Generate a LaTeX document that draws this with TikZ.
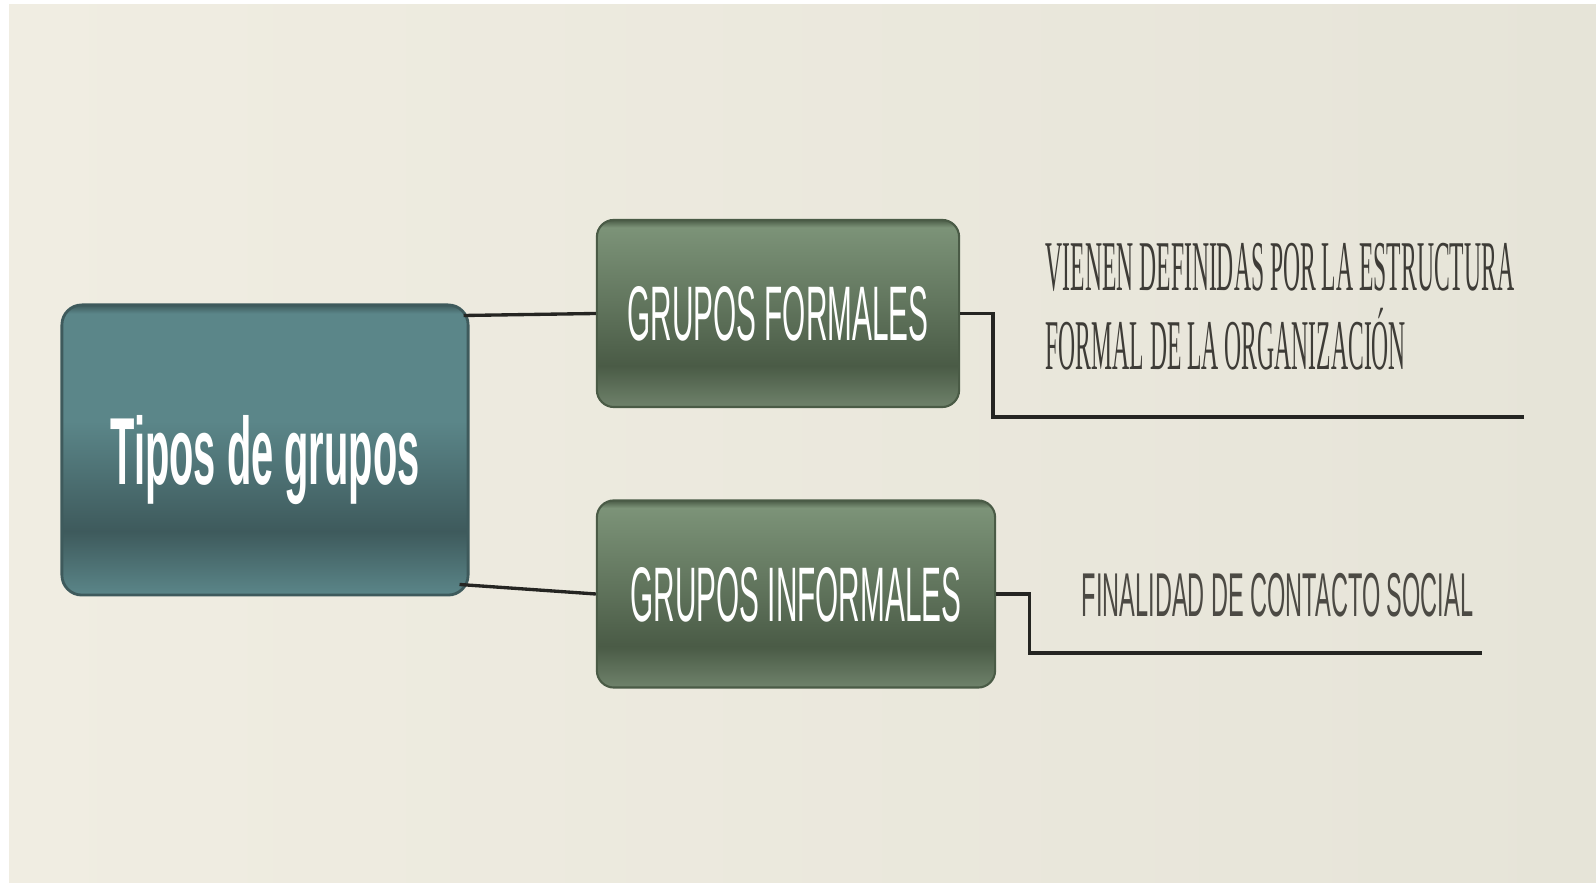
\documentclass[tikz,border=0pt]{standalone}
\usepackage{fontspec}
\setmainfont{Liberation Sans}
\newfontfamily\titlefont[FakeStretch=0.418]{Liberation Sans Bold}
\newfontfamily\boxfont[FakeStretch=0.385]{Liberation Sans}
\newfontfamily\notefont[FakeStretch=0.38]{Liberation Sans}
\newfontfamily\seriffont[FakeStretch=0.331]{Liberation Serif}
\usetikzlibrary{positioning,calc}
\definecolor{paperL}{HTML}{F0EDE2}
\definecolor{paperR}{HTML}{E6E4D8}
\definecolor{tealT}{HTML}{5B8689}
\definecolor{tealM}{HTML}{3E5A5C}
\definecolor{greenT}{HTML}{7C9378}
\definecolor{greenM}{HTML}{4A5B46}
\definecolor{greenB}{HTML}{6F826B}
\definecolor{inkline}{HTML}{252522}
\definecolor{inktext}{HTML}{3E3C37}
\definecolor{inknote}{HTML}{4C4A44}
% shadings: the box fills 25bp (bottom) to 75bp (top)
\pgfdeclareverticalshading{tealshade}{100bp}{color(0bp)=(tealT);
  color(25bp)=(tealT); color(36bp)=(tealM); color(55bp)=(tealT);
  color(73.5bp)=(tealT); color(75bp)=(tealM); color(100bp)=(tealM)}
\pgfdeclareverticalshading{greenshade}{100bp}{color(0bp)=(greenB);
  color(25bp)=(greenB); color(36bp)=(greenM); color(52bp)=(greenM!55!greenT);
  color(73bp)=(greenT); color(75bp)=(greenM); color(100bp)=(greenM)}

\begin{document}
\begin{tikzpicture}[x=0.01cm,y=-0.01cm,
    mainbox/.style={rounded corners=0.2cm, draw=tealM, line width=0.8pt,
      shading=tealshade, text=white, inner sep=0pt, text depth=0pt,
      minimum width=4.06cm, minimum height=2.9cm,
      font=\titlefont\fontsize{27.1pt}{30pt}\selectfont},
    groupbox/.style={rounded corners=0.17cm, draw=greenM, line width=0.6pt,
      shading=greenshade, text=white, inner sep=0pt, text depth=0pt,
      minimum height=1.87cm,
      font=\boxfont\fontsize{22pt}{24pt}\selectfont},
    conn/.style={draw=inkline, line width=0.95pt}]
    % background
    \fill[white] (0,0) rectangle (1596,883);
    \shade[left color=paperL, right color=paperR] (9,5) rectangle (1596,883);
    \useasboundingbox (0,0) rectangle (1596,883);
    % boxes
    \node[mainbox] (tipos) at (265,450) {Tipos de grupos};
    \node[groupbox, minimum width=3.62cm] (formales) at (778,313.5) {GRUPOS FORMALES};
    \node[groupbox, minimum width=3.98cm] (informales) at (796,594) {GRUPOS INFORMALES};
    % notes
    \node[text=inktext, align=left, inner sep=0pt, anchor=west,
      font=\seriffont\fontsize{20.3pt}{22.5pt}\selectfont] (fnote) at (1045,307)
      {VIENEN DEFINIDAS POR LA ESTRUCTURA\\FORMAL DE LA ORGANIZACIÓN};
    \node[text=inknote, inner sep=0pt, text depth=0pt,
      font=\notefont\fontsize{17.6pt}{20pt}\selectfont] (inote) at (1277.5,595)
      {FINALIDAD DE CONTACTO SOCIAL};
    \coordinate (fend) at (1524,417);
    \coordinate (iend) at (1482,653);
    % connectors
    \draw[conn] ($(tipos.north east)+(-6,12)$) -- (formales.west);
    \draw[conn] ($(tipos.south east)+(-10,-12)$) -- (informales.west);
    \draw[conn] (formales.east) -- ++(33,0) |- (fend);
    \draw[conn] (informales.east) -- ++(33,0) |- (iend);
\end{tikzpicture}
\end{document}
